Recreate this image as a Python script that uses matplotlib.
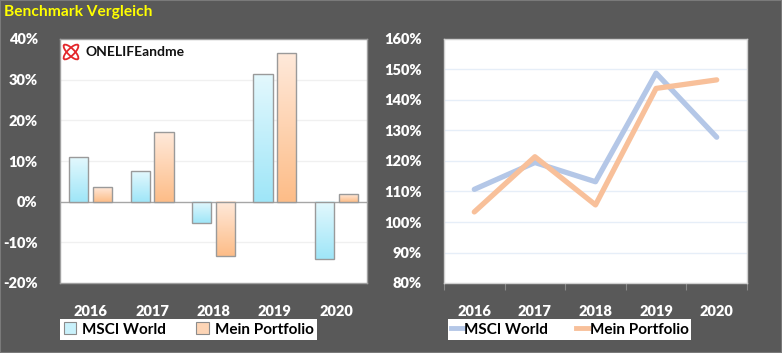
import numpy as np
import matplotlib
matplotlib.use('Agg')
from matplotlib import pyplot as plt
from matplotlib.patches import Patch, Ellipse, Rectangle
from matplotlib.lines import Line2D
from matplotlib.colors import to_rgb

years = ['2016', '2017', '2018', '2019', '2020']
msci_return = [10.9, 7.6, -5.2, 31.3, -14.1]        # % per year
portfolio_return = [3.5, 17.2, -13.3, 36.5, 1.8]
msci_index = [110.7, 119.5, 113.2, 148.8, 127.8]     # % cumulative
portfolio_index = [103.3, 121.4, 105.6, 143.8, 146.6]

W, H = 782, 353
BG = '#595959'
plt.rcParams['font.family'] = ['Lato', 'DejaVu Sans']
TICKW = 'heavy'

fig = plt.figure(figsize=(W / 100, H / 100), dpi=100, facecolor=BG)
fig.patches.append(Rectangle((0, 0), 1, 1, transform=fig.transFigure,
                             facecolor='none', edgecolor='#7a7a7a', lw=1.5))

def px_axes(x0, y0, x1, y1):
    return fig.add_axes([x0 / W, 1 - y1 / H, (x1 - x0) / W, (y1 - y0) / H])

fig.text(4 / W, 1 - 12 / H, 'Benchmark Vergleich', color='#ffff00',
         fontsize=11.2, fontweight='bold', va='center', ha='left')

# ---- left: yearly returns (bars with gradient)
ax = px_axes(60, 39, 367, 283)
ax.set_facecolor('white')
x = np.arange(len(years))
bw = 0.31
off = 0.194

def grad_bar(ax, xc, val, top_col, bot_col):
    c1, c2 = np.array(to_rgb(top_col)), np.array(to_rgb(bot_col))
    t = np.linspace(0, 1, 64)[:, None, None]
    img = c1 * (1 - t) + c2 * t
    y0, y1 = (0, val) if val >= 0 else (val, 0)
    ax.imshow(img, extent=[xc - bw / 2, xc + bw / 2, y0, y1],
              aspect='auto', origin='upper', zorder=3, interpolation='bilinear')
    ax.add_patch(Rectangle((xc - bw / 2, y0), bw, y1 - y0, facecolor='none',
                           edgecolor='#9a9a9a', lw=1.0, zorder=4))

for i in range(len(years)):
    grad_bar(ax, x[i] - off, msci_return[i], '#e3f8fd', '#9fe6f8')
    grad_bar(ax, x[i] + off, portfolio_return[i], '#ffe9da', '#fdbd88')

ax.set_xlim(-0.5, len(years) - 0.5)
ax.set_ylim(-20, 40)
ax.set_yticks(np.arange(-20, 41, 10))
ax.set_yticklabels([f'{v}%' for v in range(-20, 41, 10)])
for v in [-10, 10, 20, 30]:
    ax.axhline(v, color='#f0f0f0', lw=1, zorder=1)
ax.axhline(0, color='#a6a6a6', lw=1, zorder=2)
ax.set_xticks(x)
ax.set_xticklabels(years)
ax.tick_params(axis='both', length=0, colors='white', labelsize=10.5)
ax.tick_params(axis='y', pad=16)
ax.tick_params(axis='x', pad=16)
for lab in ax.get_xticklabels() + ax.get_yticklabels():
    lab.set_fontweight(TICKW)
for s in ax.spines.values():
    s.set_color('#a0a0a0')
    s.set_linewidth(1)

# logo
ia = px_axes(62, 43, 80, 61)
ia.set_xlim(-1, 1)
ia.set_ylim(-1, 1)
ia.axis('off')
for ang in (45, -45):
    ia.add_patch(Ellipse((0, 0), 2.2, 0.75, angle=ang, facecolor='none',
                         edgecolor='#e3262b', lw=1.3))
fig.text(85 / W, 1 - 52.5 / H, 'ONELIFEandme', fontsize=10, fontweight='bold',
         color='#111111', va='center', ha='left')

leg1 = fig.legend(handles=[Patch(facecolor='#c9f1fb', edgecolor='#8c8c8c', lw=0.8, label='MSCI World'),
                           Patch(facecolor='#fdd5b6', edgecolor='#8c8c8c', lw=0.8, label='Mein Portfolio')],
                  loc='center', bbox_to_anchor=(188.5 / W, 1 - 329.5 / H), ncol=2,
                  frameon=True, fancybox=False, edgecolor='none', facecolor='white',
                  framealpha=1, fontsize=11, handlelength=0.8, handleheight=0.8,
                  handletextpad=0.4, columnspacing=2.0, borderpad=0.2)
for t in leg1.get_texts():
    t.set_fontweight('bold')

# ---- right: cumulative index (lines)
ax2 = px_axes(444, 39, 747, 283)
ax2.set_facecolor('white')
ax2.plot(x, msci_index, color='#b4c7e7', lw=3.8, solid_capstyle='round',
         solid_joinstyle='round', zorder=3)
ax2.plot(x, portfolio_index, color='#f8c09a', lw=3.8, solid_capstyle='round',
         solid_joinstyle='round', zorder=4)
ax2.set_xlim(-0.5, len(years) - 0.5)
ax2.set_ylim(80, 160)
ax2.set_yticks(np.arange(80, 161, 10))
ax2.set_yticklabels([f'{v}%' for v in range(80, 161, 10)])
for v in range(90, 160, 10):
    ax2.axhline(v, color='#e6eef8', lw=1, zorder=1)
ax2.set_xticks(np.arange(-0.5, len(years), 1))
ax2.set_xticklabels([])
ax2.tick_params(axis='x', which='major', length=5, color='#888888', direction='out')
ax2.set_xticks(x, minor=True)
ax2.set_xticklabels(years, minor=True)
ax2.tick_params(axis='x', which='minor', length=0, colors='white', labelsize=10.5, pad=16)
ax2.tick_params(axis='y', length=0, colors='white', labelsize=10.5, pad=16)
for lab in ax2.get_xticklabels(minor=True) + ax2.get_yticklabels():
    lab.set_fontweight(TICKW)
for s in ax2.spines.values():
    s.set_color('#d0d0d0')
    s.set_linewidth(1)

leg2 = fig.legend(handles=[Line2D([], [], color='#b4c7e7', lw=3.5, label='MSCI World'),
                           Line2D([], [], color='#f8c09a', lw=3.5, label='Mein Portfolio')],
                  loc='center', bbox_to_anchor=(569.5 / W, 1 - 329.5 / H), ncol=2,
                  frameon=True, fancybox=False, edgecolor='none', facecolor='white',
                  framealpha=1, fontsize=11, handlelength=0.8,
                  handletextpad=0.1, columnspacing=1.8, borderpad=0.2)
for t in leg2.get_texts():
    t.set_fontweight('bold')

fig.savefig('out.png', dpi=100, facecolor=BG)
